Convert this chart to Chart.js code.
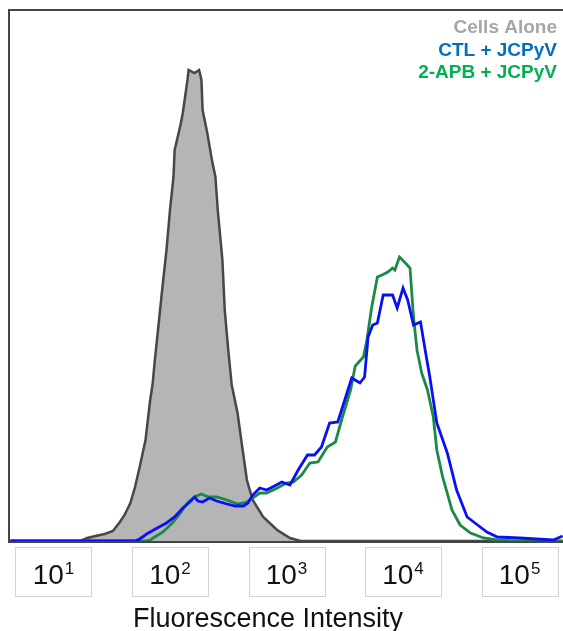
<!DOCTYPE html>
<html lang="en">
<head>
    <meta charset="UTF-8">
    <title>Fluorescence Intensity Histogram</title>
    <style>
        html, body {
            margin: 0;
            padding: 0;
            background: #fff;
            overflow: hidden;
        }

        #chart-container {
            position: relative;
            width: 563px;
            height: 631px;
        }
    </style>
</head>
<body>
    <div id="chart-container">
        <canvas id="histogram"></canvas>
    </div>

    <script src="https://cdn.jsdelivr.net/npm/chart.js"></script>
    <script>
        // x values are log10 of the fluorescence intensity (decades)
        const tickExponents = [1, 2, 3, 4, 5];
        const seriesNames = ['Cells Alone', 'CTL + JCPyV', '2-APB + JCPyV'];

        const cellsAloneX = [0.63, 1.23, 1.29, 1.36, 1.44, 1.51, 1.57, 1.61, 1.66, 1.70, 1.74, 1.79, 1.83, 1.85,
            1.87, 1.90, 1.93, 1.97, 2.00, 2.03, 2.04, 2.09, 2.11, 2.15, 2.16, 2.21, 2.25, 2.27, 2.28, 2.32,
            2.36, 2.39, 2.41, 2.45, 2.47, 2.50, 2.53, 2.58, 2.62, 2.66, 2.71, 2.80, 2.92, 3.03, 3.12, 5.37];
        const cellsAloneY = [1, 1, 4, 6, 8, 11, 20, 27, 39, 55, 75, 102, 142, 157,
            182, 215, 249, 292, 332, 365, 392, 417, 429, 462, 472, 469, 472, 462, 432, 409,
            382, 365, 332, 282, 232, 192, 157, 129, 95, 62, 42, 25, 12, 4, 1, 1];

        const ctlX = [0.63, 1.70, 1.74, 1.80, 1.89, 1.97, 2.04, 2.11, 2.17, 2.21, 2.24, 2.28, 2.34, 2.40,
            2.49, 2.56, 2.63, 2.67, 2.71, 2.77, 2.83, 2.88, 2.96, 3.03, 3.10, 3.18, 3.24, 3.30, 3.37,
            3.44, 3.50, 3.56, 3.63, 3.67, 3.70, 3.74, 3.78, 3.83, 3.91, 3.95, 4.00, 4.04, 4.09, 4.15,
            4.19, 4.23, 4.29, 4.38, 4.46, 4.55, 4.64, 4.72, 4.81, 5.00, 5.29, 5.35, 5.37];
        const ctlY = [1, 1, 3, 8, 14, 19, 25, 34, 40, 45, 41, 40, 44, 41,
            38, 36, 36, 39, 47, 54, 52, 55, 60, 57, 72, 87, 87, 95, 119,
            120, 142, 164, 159, 165, 205, 217, 219, 247, 247, 234, 254, 242, 217, 220,
            192, 165, 119, 89, 52, 25, 17, 10, 5, 4, 2, 5, 6];

        const apbX = [0.63, 1.79, 1.83, 1.87, 1.94, 2.02, 2.09, 2.15, 2.21, 2.27, 2.33, 2.40, 2.49, 2.58,
            2.66, 2.71, 2.77, 2.83, 2.92, 3.00, 3.06, 3.13, 3.20, 3.27, 3.35, 3.42, 3.48, 3.55, 3.59,
            3.66, 3.69, 3.73, 3.78, 3.82, 3.87, 3.91, 3.93, 3.97, 4.02, 4.06, 4.09, 4.12, 4.16, 4.21,
            4.26, 4.29, 4.34, 4.42, 4.49, 4.58, 4.69, 4.81, 4.94, 5.37];
        const apbY = [1, 1, 2, 5, 10, 19, 29, 39, 45, 48, 45, 45, 42, 38,
            40, 44, 49, 49, 54, 59, 60, 67, 79, 80, 95, 100, 125, 152, 176,
            185, 202, 234, 265, 267, 270, 274, 272, 285, 279, 274, 225, 192, 169, 152,
            125, 92, 65, 32, 17, 9, 4, 2, 1, 1];

        const textColors = ['#a6a6a6', '#0070c0', '#00b050'];

        function toPoints(xs, ys) {
            return xs.map((x, i) => ({ x: x, y: ys[i] }));
        }

        // frame, boxed tick labels, axis title and legend text
        const decorPlugin = {
            id: 'decor',
            afterDatasetsDraw(chart) {
                const ctx = chart.ctx;
                const area = chart.chartArea;
                const xScale = chart.scales.x;

                ctx.save();
                ctx.strokeStyle = '#444';
                ctx.lineWidth = 2;
                ctx.beginPath();
                ctx.moveTo(area.right + 2, area.top);
                ctx.lineTo(area.left - 1, area.top);
                ctx.lineTo(area.left - 1, area.bottom);
                ctx.lineTo(area.right + 2, area.bottom);
                ctx.stroke();

                tickExponents.forEach(exp => {
                    const cx = xScale.getPixelForValue(exp);
                    const top = area.bottom + 5;
                    ctx.strokeStyle = '#d4d4d4';
                    ctx.lineWidth = 1;
                    ctx.strokeRect(Math.round(cx - 38) + 0.5, top + 0.5, 76, 49);

                    ctx.fillStyle = '#111';
                    ctx.font = '28px Arial, "Liberation Sans", sans-serif';
                    const baseW = ctx.measureText('10').width;
                    ctx.font = '17px Arial, "Liberation Sans", sans-serif';
                    const supW = ctx.measureText(String(exp)).width;
                    const start = cx - (baseW + supW + 1) / 2;
                    ctx.textBaseline = 'alphabetic';
                    ctx.textAlign = 'left';
                    ctx.font = '28px Arial, "Liberation Sans", sans-serif';
                    ctx.fillText('10', start, top + 37);
                    ctx.font = '17px Arial, "Liberation Sans", sans-serif';
                    ctx.fillText(String(exp), start + baseW + 1, top + 27);
                });

                ctx.fillStyle = '#111';
                ctx.font = '27px Arial, "Liberation Sans", sans-serif';
                ctx.textAlign = 'center';
                ctx.fillText('Fluorescence Intensity', 268, 627);

                ctx.font = 'bold 19px Arial, "Liberation Sans", sans-serif';
                ctx.textAlign = 'right';
                seriesNames.forEach((name, i) => {
                    ctx.fillStyle = textColors[i];
                    ctx.fillText(name, 557, 33 + i * 22.5);
                });
                ctx.restore();
            }
        };

        const chart = new Chart(document.getElementById('histogram'), {
            type: 'line',
            data: {
                datasets: [
                    {
                        label: seriesNames[0],
                        data: toPoints(cellsAloneX, cellsAloneY),
                        borderColor: '#474747',
                        backgroundColor: '#b5b5b5',
                        borderWidth: 2.5,
                        fill: 'origin',
                        order: 3
                    },
                    {
                        label: seriesNames[1],
                        data: toPoints(ctlX, ctlY),
                        borderColor: '#0a10f5',
                        borderWidth: 2.8,
                        fill: false,
                        order: 1
                    },
                    {
                        label: seriesNames[2],
                        data: toPoints(apbX, apbY),
                        borderColor: '#1b8a44',
                        borderWidth: 2.8,
                        fill: false,
                        order: 2
                    }
                ]
            },
            options: {
                responsive: true,
                maintainAspectRatio: false,
                animation: false,
                layout: {
                    padding: { left: 10, top: 10, right: 0, bottom: 89 }
                },
                elements: {
                    point: { radius: 0 },
                    line: { tension: 0 }
                },
                plugins: {
                    legend: { display: false },
                    tooltip: { enabled: false }
                },
                scales: {
                    x: {
                        type: 'linear',
                        min: 0.627,
                        max: 5.373,
                        display: false
                    },
                    y: {
                        min: 0,
                        max: 532,
                        display: false
                    }
                }
            },
            plugins: [decorPlugin]
        });
    </script>
</body>
</html>
